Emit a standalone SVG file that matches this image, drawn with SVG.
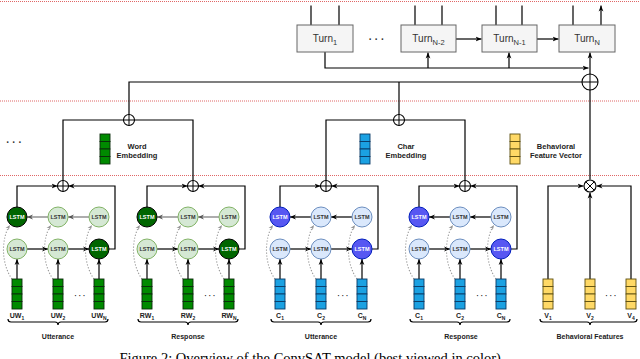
<svg xmlns="http://www.w3.org/2000/svg" xmlns:xlink="http://www.w3.org/1999/xlink" width="640" height="359" viewBox="0 0 640 359">
<style>
.red{stroke:#e06666;stroke-width:1;stroke-dasharray:1 1;fill:none}
.ln{stroke:#000;stroke-width:1.2;fill:none}
.gry{stroke:#777;stroke-width:1.2;fill:none}
.dot{stroke:#999;stroke-width:1.1;stroke-dasharray:1.2 1.8;fill:none}
.turn{fill:#f5f5f5;stroke:#666;stroke-width:1}
.tt{font-family:"Liberation Sans",Arial,sans-serif;font-size:10px;fill:#333;text-anchor:middle}
.lab{font-family:"Liberation Sans",Arial,sans-serif;font-size:7.5px;font-weight:bold;fill:#222;text-anchor:middle}
.sm{font-family:"Liberation Sans",Arial,sans-serif;font-size:7px;font-weight:bold;fill:#222;text-anchor:middle}
.ls{font-family:"Liberation Sans",Arial,sans-serif;font-size:5.5px;font-weight:bold;text-anchor:middle}
.lg{fill:#d5e8d4;stroke:#82b366;stroke-width:1}
.dg{fill:#006600;stroke:#000;stroke-width:1}
.lb{fill:#dae8fc;stroke:#6c8ebf;stroke-width:1}
.db{fill:#5757f2;stroke:#001dbc;stroke-width:1}
.dk{fill:#333}
.wh{fill:#fff}
.gc{fill:#008a00;stroke:#0b2b0b;stroke-width:0.9}
.bc{fill:#1ba1e2;stroke:#0a3a66;stroke-width:0.9}
.yc{fill:#ffd966;stroke:#5e4f10;stroke-width:0.9}
.op{fill:#fff;stroke:#000;stroke-width:1.1}
.cap{font-family:"Liberation Serif","Times New Roman",serif;font-size:14.5px;fill:#000;text-anchor:middle}
</style>
<defs>
<marker id="a" viewBox="0 0 10 10" refX="10" refY="5" markerWidth="6" markerHeight="6" orient="auto" markerUnits="userSpaceOnUse"><path d="M0,1L10,5L0,9L3,5z" fill="#000"/></marker>
<marker id="ag" viewBox="0 0 10 10" refX="10" refY="5" markerWidth="6" markerHeight="6" orient="auto" markerUnits="userSpaceOnUse"><path d="M0,1L10,5L0,9L3,5z" fill="#555"/></marker>
<marker id="ad" viewBox="0 0 10 10" refX="10" refY="5" markerWidth="5" markerHeight="5" orient="auto" markerUnits="userSpaceOnUse"><path d="M0,1L10,5L0,9L3,5z" fill="#999"/></marker>
<g id="vg"><rect class="gc" x="-5" y="0" width="10" height="7.5"/><rect class="gc" x="-5" y="7.5" width="10" height="7.5"/><rect class="gc" x="-5" y="15" width="10" height="7.5"/><rect class="gc" x="-5" y="22.5" width="10" height="7.5"/></g>
<g id="vb"><rect class="bc" x="-5" y="0" width="10" height="7.5"/><rect class="bc" x="-5" y="7.5" width="10" height="7.5"/><rect class="bc" x="-5" y="15" width="10" height="7.5"/><rect class="bc" x="-5" y="22.5" width="10" height="7.5"/></g>
<g id="vy"><rect class="yc" x="-5" y="0" width="10" height="7.5"/><rect class="yc" x="-5" y="7.5" width="10" height="7.5"/><rect class="yc" x="-5" y="15" width="10" height="7.5"/><rect class="yc" x="-5" y="22.5" width="10" height="7.5"/></g>
<g id="plus"><circle class="op" cx="0" cy="0" r="5.5"/><path d="M-5.5,0H5.5M0,-5.5V5.5" stroke="#000" stroke-width="1"/></g>
<g id="clconn">
<path class="ln" marker-end="url(#a)" d="M27,249H48"/>
<path class="ln" marker-end="url(#a)" d="M68,249H89"/>
<path class="gry" marker-end="url(#ag)" d="M89,217H68"/>
<path class="gry" marker-end="url(#ag)" d="M48,217H27"/>
<path class="ln" marker-end="url(#a)" d="M17,207V186H57.5"/>
<path class="ln" marker-end="url(#a)" d="M109,249H115V186H68.5"/>
<path class="ln" marker-end="url(#a)" d="M17,279V259"/>
<path class="ln" marker-end="url(#a)" d="M58,279V259"/>
<path class="ln" marker-end="url(#a)" d="M99,279V259"/>
<path class="dot" marker-end="url(#ad)" d="M12,279C1,264 1,238 10,225"/>
<path class="dot" marker-end="url(#ad)" d="M53,279C42,264 42,238 51,225"/>
<path class="dot" marker-end="url(#ad)" d="M94,279C83,264 83,238 92,225"/>
<path class="ln" d="M8,319Q8,322 11,322H55Q58,322 58,325Q58,322 61,322H105Q108,322 108,319"/>
</g>
<g id="clconnb">
<path class="ln" marker-end="url(#a)" d="M27,249H48"/>
<path class="ln" marker-end="url(#a)" d="M68,249H89"/>
<path class="ln" marker-end="url(#a)" d="M89,217H68"/>
<path class="ln" marker-end="url(#a)" d="M48,217H27"/>
<path class="ln" marker-end="url(#a)" d="M17,207V186H57.5"/>
<path class="ln" marker-end="url(#a)" d="M109,249H115V186H68.5"/>
<path class="ln" marker-end="url(#a)" d="M17,279V259"/>
<path class="ln" marker-end="url(#a)" d="M58,279V259"/>
<path class="ln" marker-end="url(#a)" d="M99,279V259"/>
<path class="dot" marker-end="url(#ad)" d="M12,279C1,264 1,238 10,225"/>
<path class="dot" marker-end="url(#ad)" d="M53,279C42,264 42,238 51,225"/>
<path class="dot" marker-end="url(#ad)" d="M94,279C83,264 83,238 92,225"/>
<path class="ln" d="M8,319Q8,322 11,322H55Q58,322 58,325Q58,322 61,322H105Q108,322 108,319"/>
</g>
</defs>

<!-- separators -->
<g id="separators">
<line class="red" x1="0" y1="1.5" x2="640" y2="1.5"/>
<line class="red" x1="0" y1="101" x2="640" y2="101"/>
<line class="red" x1="0" y1="175.5" x2="640" y2="175.5"/>
</g>

<!-- connectors -->
<g id="connectors">
<use href="#clconn"/>
<use href="#clconn" x="130"/>
<use href="#clconnb" x="263"/>
<use href="#clconnb" x="402"/>
<path class="ln" d="M63,180.5V120H123.5"/>
<path class="ln" d="M193,180.5V120H134.5"/>
<path class="ln" d="M129,114.5V82H582"/>
<path class="ln" d="M326,180.5V120H393.5"/>
<path class="ln" d="M465,180.5V120H404.5"/>
<path class="ln" d="M399,114.5V82"/>
<path class="ln" marker-end="url(#a)" d="M548,279V186H583.5"/>
<path class="ln" marker-end="url(#a)" d="M631,279V186H596.5"/>
<path class="ln" marker-end="url(#a)" d="M590,279V192.5"/>
<path class="ln" d="M540,319Q540,322 543,322H587Q590,322 590,325Q590,322 593,322H634Q637,322 637,319"/>
<path class="ln" d="M590,179.5V90"/>
<path class="ln" marker-end="url(#a)" d="M590,74V52.5"/>
<path class="ln" marker-end="url(#a)" d="M325,52V68H588.5"/>
<path class="ln" marker-end="url(#a)" d="M428,68V52.5"/>
<path class="ln" marker-end="url(#a)" d="M509,68V52.5"/>
<path class="ln" marker-end="url(#a)" d="M456,39H481.5"/>
<path class="ln" marker-end="url(#a)" d="M537,39H558.5"/>
<path class="ln" marker-end="url(#a)" d="M311,25V5.5M339,25V5.5M415,25V5.5M442,25V5.5M496,25V5.5M522,25V5.5M573,25V5.5M601,25V5.5"/>
</g>

<!-- turns -->
<g id="turn1"><rect class="turn" x="297" y="25" width="56" height="27"/><text class="tt" x="325" y="42">Turn<tspan font-size="7.5" dy="2.5">1</tspan></text></g>
<g id="turnN2"><rect class="turn" x="401" y="25" width="55" height="27"/><text class="tt" x="428.5" y="42">Turn<tspan font-size="7.5" dy="2.5">N-2</tspan></text></g>
<g id="turnN1"><rect class="turn" x="482" y="25" width="55" height="27"/><text class="tt" x="509.5" y="42">Turn<tspan font-size="7.5" dy="2.5">N-1</tspan></text></g>
<g id="turnN"><rect class="turn" x="559" y="25" width="56" height="27"/><text class="tt" x="587" y="42">Turn<tspan font-size="7.5" dy="2.5">N</tspan></text></g>
<text id="turn-dots" class="tt" x="376.5" y="43" font-weight="bold" font-size="11">· · ·</text>
<text id="left-dots" class="tt" x="14" y="146" font-weight="bold" font-size="13" fill="#000">· · ·</text>

<!-- operators -->
<g id="sum-top"><circle class="op" cx="590" cy="82" r="8"/><path d="M582,82H598M590,74V90" stroke="#000" stroke-width="1"/></g>
<g id="sum-word"><use href="#plus" x="129" y="120"/></g>
<g id="sum-char"><use href="#plus" x="399" y="120"/></g>
<g id="sum-uw"><use href="#plus" x="63" y="186"/></g>
<g id="sum-rw"><use href="#plus" x="193" y="186"/></g>
<g id="sum-uc"><use href="#plus" x="326" y="186"/></g>
<g id="sum-rc"><use href="#plus" x="465" y="186"/></g>
<g id="mul-beh"><circle class="op" cx="590" cy="186" r="6"/><path d="M585.8,181.8L594.2,190.2M594.2,181.8L585.8,190.2" stroke="#000" stroke-width="1"/></g>

<!-- legends -->
<g id="legend-word"><use href="#vg" x="105" y="134"/><text class="lab" x="137" y="148.5">Word</text><text class="lab" x="137" y="157.5">Embedding</text></g>
<g id="legend-char"><use href="#vb" x="365" y="134"/><text class="lab" x="406" y="148.5">Char</text><text class="lab" x="406" y="157.5">Embedding</text></g>
<g id="legend-beh"><use href="#vy" x="515" y="134"/><text class="lab" x="556" y="148.5">Behavioral</text><text class="lab" x="556" y="157.5">Feature Vector</text></g>

<!-- utterance word cluster -->
<g id="uw-cluster">
<g id="uw-t1"><circle class="dg" cx="17" cy="217" r="10"/><text class="ls wh" x="17" y="219">LSTM</text></g>
<g id="uw-t2"><circle class="lg" cx="58" cy="217" r="10"/><text class="ls dk" x="58" y="219">LSTM</text></g>
<g id="uw-t3"><circle class="lg" cx="99" cy="217" r="10"/><text class="ls dk" x="99" y="219">LSTM</text></g>
<g id="uw-b1"><circle class="lg" cx="17" cy="249" r="10"/><text class="ls dk" x="17" y="251">LSTM</text></g>
<g id="uw-b2"><circle class="lg" cx="58" cy="249" r="10"/><text class="ls dk" x="58" y="251">LSTM</text></g>
<g id="uw-b3"><circle class="dg" cx="99" cy="249" r="10"/><text class="ls wh" x="99" y="251">LSTM</text></g>
<g id="uw-v1"><use href="#vg" x="17" y="279"/><text class="sm" x="17" y="318">UW<tspan font-size="5" dy="1.5">1</tspan></text></g>
<g id="uw-v2"><use href="#vg" x="58" y="279"/><text class="sm" x="58" y="318">UW<tspan font-size="5" dy="1.5">2</tspan></text></g>
<g id="uw-v3"><use href="#vg" x="99" y="279"/><text class="sm" x="99" y="318">UW<tspan font-size="5" dy="1.5">N</tspan></text></g>
<text class="sm" x="80" y="298">· · ·</text>
<text class="sm" x="58" y="339">Utterance</text>
</g>

<!-- response word cluster -->
<g id="rw-cluster">
<g id="rw-t1"><circle class="dg" cx="147" cy="217" r="10"/><text class="ls wh" x="147" y="219">LSTM</text></g>
<g id="rw-t2"><circle class="lg" cx="188" cy="217" r="10"/><text class="ls dk" x="188" y="219">LSTM</text></g>
<g id="rw-t3"><circle class="lg" cx="229" cy="217" r="10"/><text class="ls dk" x="229" y="219">LSTM</text></g>
<g id="rw-b1"><circle class="lg" cx="147" cy="249" r="10"/><text class="ls dk" x="147" y="251">LSTM</text></g>
<g id="rw-b2"><circle class="lg" cx="188" cy="249" r="10"/><text class="ls dk" x="188" y="251">LSTM</text></g>
<g id="rw-b3"><circle class="dg" cx="229" cy="249" r="10"/><text class="ls wh" x="229" y="251">LSTM</text></g>
<g id="rw-v1"><use href="#vg" x="147" y="279"/><text class="sm" x="147" y="318">RW<tspan font-size="5" dy="1.5">1</tspan></text></g>
<g id="rw-v2"><use href="#vg" x="188" y="279"/><text class="sm" x="188" y="318">RW<tspan font-size="5" dy="1.5">2</tspan></text></g>
<g id="rw-v3"><use href="#vg" x="229" y="279"/><text class="sm" x="229" y="318">RW<tspan font-size="5" dy="1.5">N</tspan></text></g>
<text class="sm" x="210" y="298">· · ·</text>
<text class="sm" x="188" y="339">Response</text>
</g>

<!-- utterance char cluster -->
<g id="uc-cluster">
<g id="uc-t1"><circle class="db" cx="280" cy="217" r="10"/><text class="ls wh" x="280" y="219">LSTM</text></g>
<g id="uc-t2"><circle class="lb" cx="321" cy="217" r="10"/><text class="ls dk" x="321" y="219">LSTM</text></g>
<g id="uc-t3"><circle class="lb" cx="362" cy="217" r="10"/><text class="ls dk" x="362" y="219">LSTM</text></g>
<g id="uc-b1"><circle class="lb" cx="280" cy="249" r="10"/><text class="ls dk" x="280" y="251">LSTM</text></g>
<g id="uc-b2"><circle class="lb" cx="321" cy="249" r="10"/><text class="ls dk" x="321" y="251">LSTM</text></g>
<g id="uc-b3"><circle class="db" cx="362" cy="249" r="10"/><text class="ls wh" x="362" y="251">LSTM</text></g>
<g id="uc-v1"><use href="#vb" x="280" y="279"/><text class="sm" x="280" y="318">C<tspan font-size="5" dy="1.5">1</tspan></text></g>
<g id="uc-v2"><use href="#vb" x="321" y="279"/><text class="sm" x="321" y="318">C<tspan font-size="5" dy="1.5">2</tspan></text></g>
<g id="uc-v3"><use href="#vb" x="362" y="279"/><text class="sm" x="362" y="318">C<tspan font-size="5" dy="1.5">N</tspan></text></g>
<text class="sm" x="343" y="298">· · ·</text>
<text class="sm" x="321" y="339">Utterance</text>
</g>

<!-- response char cluster -->
<g id="rc-cluster">
<g id="rc-t1"><circle class="db" cx="419" cy="217" r="10"/><text class="ls wh" x="419" y="219">LSTM</text></g>
<g id="rc-t2"><circle class="lb" cx="460" cy="217" r="10"/><text class="ls dk" x="460" y="219">LSTM</text></g>
<g id="rc-t3"><circle class="lb" cx="501" cy="217" r="10"/><text class="ls dk" x="501" y="219">LSTM</text></g>
<g id="rc-b1"><circle class="lb" cx="419" cy="249" r="10"/><text class="ls dk" x="419" y="251">LSTM</text></g>
<g id="rc-b2"><circle class="lb" cx="460" cy="249" r="10"/><text class="ls dk" x="460" y="251">LSTM</text></g>
<g id="rc-b3"><circle class="db" cx="501" cy="249" r="10"/><text class="ls wh" x="501" y="251">LSTM</text></g>
<g id="rc-v1"><use href="#vb" x="419" y="279"/><text class="sm" x="419" y="318">C<tspan font-size="5" dy="1.5">1</tspan></text></g>
<g id="rc-v2"><use href="#vb" x="460" y="279"/><text class="sm" x="460" y="318">C<tspan font-size="5" dy="1.5">2</tspan></text></g>
<g id="rc-v3"><use href="#vb" x="501" y="279"/><text class="sm" x="501" y="318">C<tspan font-size="5" dy="1.5">N</tspan></text></g>
<text class="sm" x="482" y="298">· · ·</text>
<text class="sm" x="461" y="339">Response</text>
</g>

<!-- behavioral -->
<g id="beh-cluster">
<g id="beh-v1"><use href="#vy" x="548" y="279"/><text class="sm" x="548" y="318">V<tspan font-size="5" dy="1.5">1</tspan></text></g>
<g id="beh-v2"><use href="#vy" x="590" y="279"/><text class="sm" x="590" y="318">V<tspan font-size="5" dy="1.5">2</tspan></text></g>
<g id="beh-v3"><use href="#vy" x="631" y="279"/><text class="sm" x="631" y="318">V<tspan font-size="5" dy="1.5">4</tspan></text></g>
<text class="sm" x="611" y="298">· · ·</text>
<text class="sm" x="590" y="339">Behavioral Features</text>
</g>

<text id="caption" class="cap" x="312" y="363">Figure 2: Overview of the ConvSAT model (best viewed in color).</text>
</svg>
